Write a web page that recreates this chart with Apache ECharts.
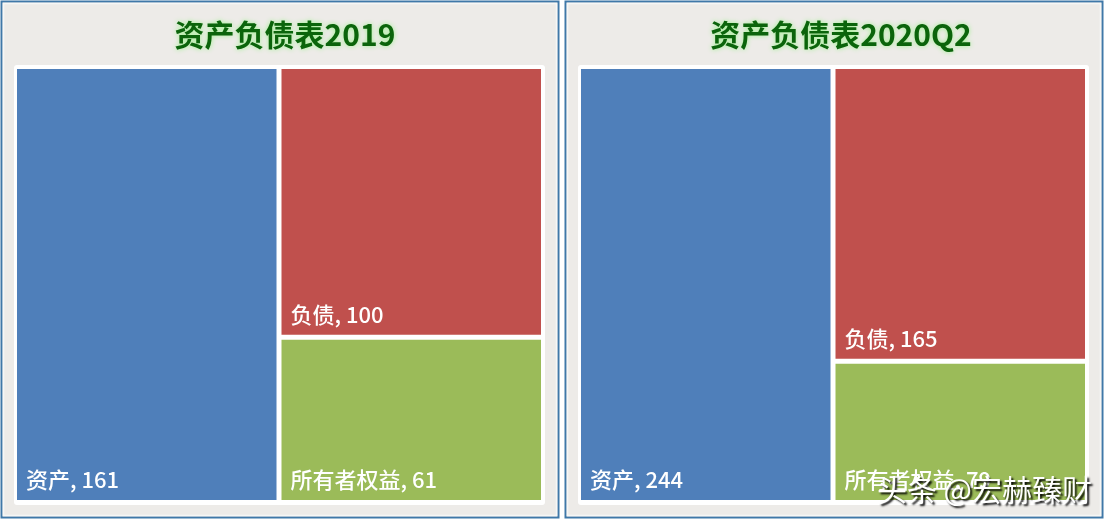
<!DOCTYPE html>
<html>
<head>
<meta charset="utf-8">
<script src="https://cdn.jsdelivr.net/npm/echarts@6/dist/echarts.min.js"></script>
<style>
html,body{margin:0;padding:0;background:#ffffff;}
#main{width:1106px;height:522px;}
</style>
</head>
<body>
<div id="main"></div>
<script>
// Data
var titles = ['资产负债表2019', '资产负债表2020Q2'];
var categories = ['资产', '负债', '所有者权益'];
var values2019 = [161, 100, 61];
var values2020Q2 = [244, 165, 79];
var colors = ['#4F7FBA', '#C0504D', '#9BBB59'];
var watermark = '头条 @宏赫臻财';

function buildData(vals) {
  return categories.map(function (c, i) {
    return { name: c, value: vals[i], itemStyle: { color: colors[i] } };
  });
}

var panels = [
  { x: 1.5, w: 557, cx: 280, tl: 17, tw: 524, bgx: 14, bgw: 531 },
  { x: 565.5, w: 537, cx: 836, tl: 581, tw: 504, bgx: 578, bgw: 511 }
];

var graphics = [];
panels.forEach(function (p) {
  graphics.push({
    type: 'rect', z: -10,
    shape: { x: p.x, y: 1.5, width: p.w, height: 516 },
    style: { fill: '#EDEBE8', stroke: '#3F78A8', lineWidth: 2 }
  });
  graphics.push({
    type: 'rect', z: -9,
    shape: { x: p.x + 2, y: 3.5, width: p.w - 4, height: 512 },
    style: { fill: null, stroke: '#F7F7F5', lineWidth: 1.5 }
  });
  graphics.push({
    type: 'rect', z: -8,
    shape: { x: p.bgx, y: 65, width: p.bgw, height: 440, r: 3 },
    style: { fill: '#FFFFFF' }
  });
});
graphics.push({
  type: 'text', z: 100,
  style: {
    text: watermark, x: 1092, y: 490, align: 'right', verticalAlign: 'middle',
    fill: '#FFFFFF', font: '30px "Noto Sans CJK SC"',
    textShadowColor: 'rgba(0,0,0,0.95)', textShadowBlur: 2, textShadowOffsetX: 2, textShadowOffsetY: 2,
    shadowColor: 'rgba(0,0,0,0.95)', shadowBlur: 2, shadowOffsetX: 2, shadowOffsetY: 2
  }
});

function series(vals, p) {
  return {
    type: 'treemap',
    left: p.tl, top: 69, width: p.tw, height: 431,
    roam: false, nodeClick: false,
    breadcrumb: { show: false },
    squareRatio: 1,
    levels: [
      { itemStyle: { gapWidth: 5, borderWidth: 0 } },
      { itemStyle: { borderWidth: 0, gapWidth: 0 } }
    ],
    label: {
      show: true,
      position: 'insideBottomLeft',
      distance: 4,
      color: '#FFFFFF',
      fontSize: 22,
      fontWeight: 500,
      fontFamily: '"Noto Sans CJK SC", sans-serif',
      formatter: function (d) { return d.name + ', ' + d.value; }
    },
    upperLabel: { show: false },
    emphasis: { disabled: true },
    silent: true,
    animation: false,
    data: buildData(vals)
  };
}

var chart = echarts.init(document.getElementById('main'));
chart.setOption({
  animation: false,
  title: titles.map(function (t, i) {
    return {
      text: t, left: panels[i].cx, top: 15, textAlign: 'center',
      textStyle: {
        color: '#0B640B', fontSize: 30, fontWeight: 'bold',
        fontFamily: '"Noto Sans CJK SC", sans-serif',
        textShadowColor: '#9CF08C', textShadowBlur: 5
      }
    };
  }),
  graphic: graphics,
  series: [series(values2019, panels[0]), series(values2020Q2, panels[1])]
});
</script>
</body>
</html>
